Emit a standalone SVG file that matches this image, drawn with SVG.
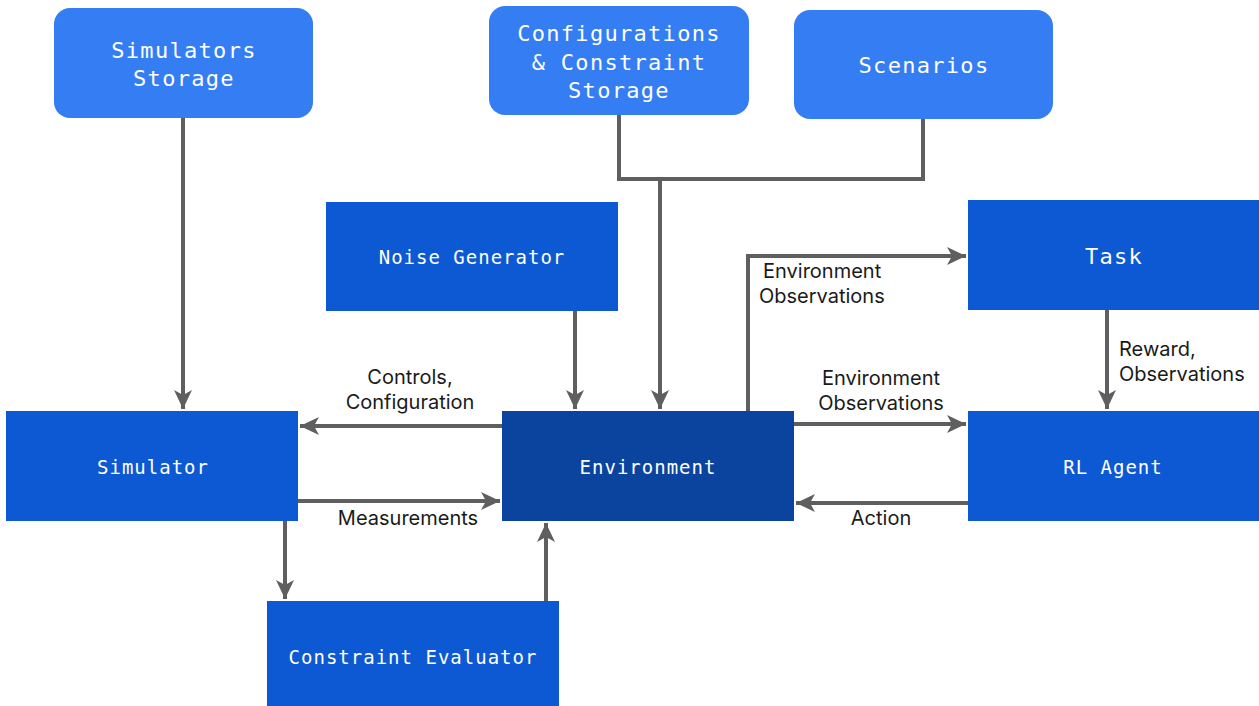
<svg xmlns="http://www.w3.org/2000/svg" width="1259" height="706" viewBox="0 0 1259 706">
<style>
.store{fill:#347df2}
.mid{fill:#0d59d3}
.env{fill:#0b449f}
.bt{font-family:"DejaVu Sans Mono","Liberation Mono",monospace;fill:#ffffff;text-anchor:middle;dominant-baseline:central}
.big{font-size:22px;letter-spacing:1.3px}
.sm{font-size:19px;letter-spacing:1.0px}
.lbl{font-family:"Inter","Noto Sans",sans-serif;font-size:20px;fill:#1a1a1a;dominant-baseline:central}
.c{fill:none;stroke:#5f5f5f;stroke-width:4}
.a{marker-end:url(#ah)}
</style>
<defs>
<marker id="ah" markerUnits="userSpaceOnUse" viewBox="0 -10 20 20" refX="19" refY="0" markerWidth="20" markerHeight="20" orient="auto">
<path d="M0,-9 L19,0 L0,9 L5,0 Z" fill="#5f5f5f"/>
</marker>
</defs>
<g id="connectors">
<path class="c a" d="M183,118 V409"/>
<path class="c" d="M619,115 V179 H923 V119"/>
<path class="c a" d="M660,179 V409"/>
<path class="c a" d="M575,311 V409"/>
<path class="c a" d="M748,411 V256 H966"/>
<path class="c a" d="M1107,310 V409"/>
<path class="c a" d="M794,424 H966"/>
<path class="c a" d="M968,503 H796"/>
<path class="c a" d="M502,426 H300"/>
<path class="c a" d="M298,501 H500"/>
<path class="c a" d="M285,521 V599"/>
<path class="c a" d="M546,601 V523"/>
<text class="lbl" x="763" y="271">Environment</text>
<text class="lbl" x="759" y="296">Observations</text>
<text class="lbl" x="1119" y="349">Reward,</text>
<text class="lbl" x="1119" y="374">Observations</text>
<text class="lbl" x="881" y="378" text-anchor="middle">Environment</text>
<text class="lbl" x="881" y="403" text-anchor="middle">Observations</text>
<text class="lbl" x="881" y="518" text-anchor="middle">Action</text>
<text class="lbl" x="410" y="377" text-anchor="middle">Controls,</text>
<text class="lbl" x="410" y="402" text-anchor="middle">Configuration</text>
<text class="lbl" x="408" y="518" text-anchor="middle">Measurements</text>
</g>
<g id="simulators-storage">
<rect class="store" x="54" y="8" width="259" height="110" rx="16"/>
<text class="bt big" x="184" y="50">Simulators</text>
<text class="bt big" x="184" y="78">Storage</text>
</g>
<g id="config-storage">
<rect class="store" x="489" y="6" width="260" height="109" rx="16"/>
<text class="bt big" x="619" y="33">Configurations</text>
<text class="bt big" x="619" y="62">&amp; Constraint</text>
<text class="bt big" x="619" y="90">Storage</text>
</g>
<g id="scenarios">
<rect class="store" x="794" y="10" width="259" height="109" rx="16"/>
<text class="bt big" x="924" y="65">Scenarios</text>
</g>
<g id="noise-generator">
<rect class="mid" x="326" y="202" width="292" height="109"/>
<text class="bt sm" x="472" y="257">Noise Generator</text>
</g>
<g id="task">
<rect class="mid" x="968" y="200" width="291" height="110"/>
<text class="bt big" x="1114" y="256">Task</text>
</g>
<g id="simulator">
<rect class="mid" x="6" y="411" width="292" height="110"/>
<text class="bt sm" x="153" y="467">Simulator</text>
</g>
<g id="environment">
<rect class="env" x="502" y="411" width="292" height="110"/>
<text class="bt sm" x="648" y="467">Environment</text>
</g>
<g id="rl-agent">
<rect class="mid" x="968" y="411" width="291" height="110"/>
<text class="bt sm" x="1113" y="467">RL Agent</text>
</g>
<g id="constraint-evaluator">
<rect class="mid" x="267" y="601" width="292" height="105"/>
<text class="bt sm" x="413" y="657">Constraint Evaluator</text>
</g>
</svg>
